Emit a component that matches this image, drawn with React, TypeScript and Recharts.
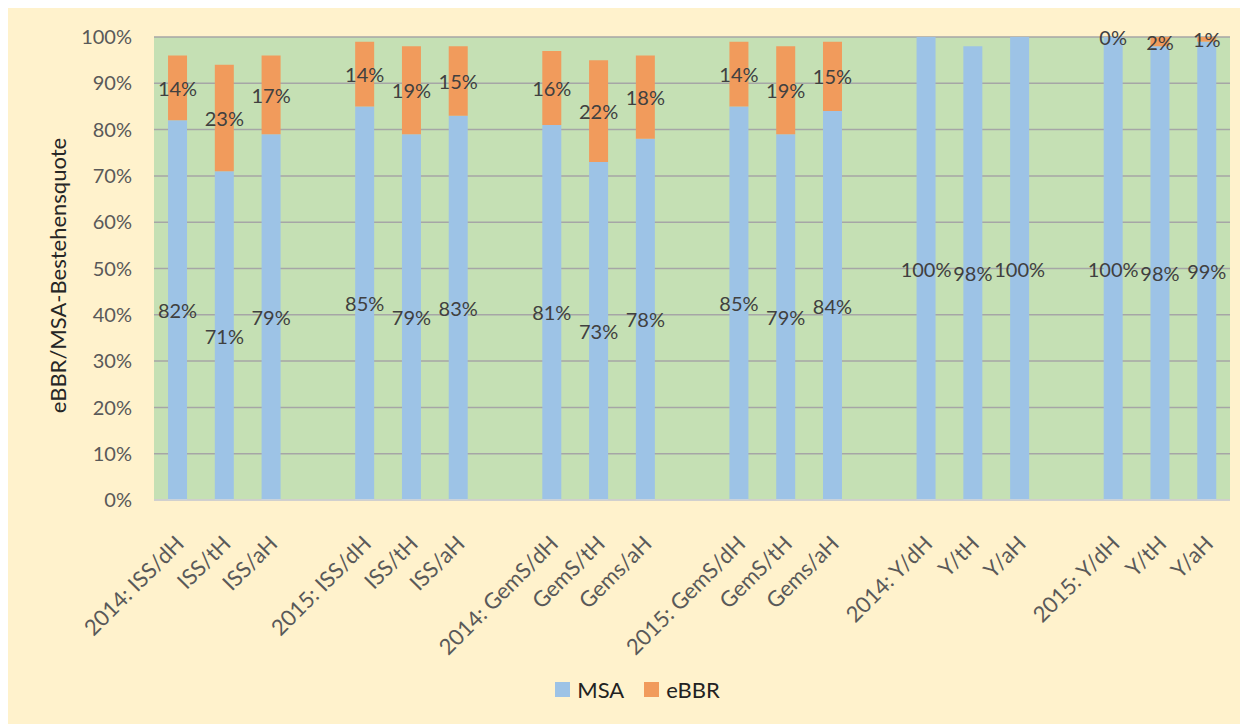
import React from 'react';
import { BarChart, Bar, XAxis, YAxis, CartesianGrid, Legend, LabelList } from 'recharts';

// Empty strings are spacer slots between the groups
const categories = [
  '2014: ISS/dH', 'ISS/tH', 'ISS/aH', '',
  '2015: ISS/dH', 'ISS/tH', 'ISS/aH', '',
  '2014: GemS/dH', 'GemS/tH', 'Gems/aH', '',
  '2015: GemS/dH', 'GemS/tH', 'Gems/aH', '',
  '2014: Y/dH', 'Y/tH', 'Y/aH', '',
  '2015: Y/dH', 'Y/tH', 'Y/aH',
];

const msaValues = [
  82, 71, 79, null,
  85, 79, 83, null,
  81, 73, 78, null,
  85, 79, 84, null,
  100, 98, 100, null,
  100, 98, 99,
];

const ebbrValues = [
  14, 23, 17, null,
  14, 19, 15, null,
  16, 22, 18, null,
  14, 19, 15, null,
  null, null, null, null,
  0, 2, 1,
];

const yTicks = [0, 10, 20, 30, 40, 50, 60, 70, 80, 90, 100];

const FONT = 'Lato, "Noto Sans", sans-serif';
const MSA_COLOR = '#9DC3E6';
const EBBR_COLOR = '#F19B5C';

const rows = categories.map((name, i) => ({
  slot: i,
  name,
  msa: msaValues[i],
  ebbr: ebbrValues[i],
}));

const CategoryTick = ({ x, y, payload }: { x: number; y: number; payload: { value: number } }) => {
  const label = categories[payload.value];
  if (!label) return null;
  const px = x + 8;
  const py = y + 43;
  return (
    <text
      x={px}
      y={py}
      transform={`rotate(-45, ${px}, ${py})`}
      textAnchor="end"
      fill="#595959"
      fontSize={22}
      fontFamily={FONT}
    >
      {label}
    </text>
  );
};

const valueText = (cx: number, cy: number, value: number) => (
  <text
    x={cx}
    y={cy}
    textAnchor="middle"
    dominantBaseline="central"
    fill="#404040"
    fontSize={20}
    fontFamily={FONT}
  >
    {`${value}%`}
  </text>
);

// Data labels centred in each segment; null entries get no label
const renderValue = (props: any) => {
  const { x, y, width, height, value } = props;
  if (value === null || value === undefined || value === 0) return null;
  return valueText(x + width / 2, y + height / 2, value);
};

// A 0 % eBBR segment has no height, so its label sits on top of the MSA bar
const renderZeroEbbr = (props: any) => {
  const { x, y, width, value } = props;
  if (value !== 0) return null;
  return valueText(x + width / 2, y, value);
};

const LegendContent = () => (
  <div
    style={{
      display: 'flex',
      justifyContent: 'center',
      alignItems: 'center',
      gap: 20,
      paddingTop: 26,
      fontFamily: FONT,
      fontSize: 22,
      color: '#222',
      paddingLeft: 40,
    }}
  >
    {[
      { name: 'MSA', color: MSA_COLOR },
      { name: 'eBBR', color: EBBR_COLOR },
    ].map((item) => (
      <span key={item.name} style={{ display: 'flex', alignItems: 'center' }}>
        <span style={{ width: 15, height: 15, background: item.color, marginRight: 7 }} />
        {item.name}
      </span>
    ))}
  </div>
);

export default function App() {
  return (
    <div style={{ marginLeft: -3, width: 1243, height: 716, background: '#FFF2CC' }}>
      <BarChart
        width={1243}
        height={716}
        data={rows}
        margin={{ top: 29, right: 18, bottom: 0, left: 0 }}
        barCategoryGap="30%"
      >
        <CartesianGrid
          vertical={false}
          stroke="#A6A6A6"
          strokeWidth={1.5}
          fill="#C5E0B4"
          fillOpacity={1}
        />
        <XAxis
          dataKey="slot"
          type="category"
          interval={0}
          tickLine={false}
          tickSize={0}
          axisLine={{ stroke: '#D9D9D9', strokeWidth: 1.5 }}
          tick={CategoryTick as any}
          height={150}
        />
        <YAxis
          domain={[0, 100]}
          ticks={yTicks}
          tickFormatter={(v) => `${v}%`}
          tick={{ fill: '#595959', fontSize: 20, fontFamily: FONT }}
          tickLine={false}
          tickSize={0}
          tickMargin={22}
          axisLine={false}
          width={149}
          label={{
            content: (props: any) => {
              const vb = props.viewBox;
              const cx = vb.x + 52;
              const cy = vb.y + vb.height / 2 + 7;
              return (
                <text
                  x={cx}
                  y={cy}
                  transform={`rotate(-90, ${cx}, ${cy})`}
                  textAnchor="middle"
                  dominantBaseline="central"
                  fill="#262626"
                  fontSize={22}
                  fontFamily={FONT}
                >
                  eBBR/MSA-Bestehensquote
                </text>
              );
            },
          }}
        />
        <Legend verticalAlign="bottom" height={74} content={<LegendContent />} />
        <Bar dataKey="msa" name="MSA" stackId="a" fill={MSA_COLOR} isAnimationActive={false}>
          <LabelList dataKey="msa" content={renderValue} />
          <LabelList dataKey="ebbr" content={renderZeroEbbr} />
        </Bar>
        <Bar dataKey="ebbr" name="eBBR" stackId="a" fill={EBBR_COLOR} isAnimationActive={false}>
          <LabelList dataKey="ebbr" content={renderValue} />
        </Bar>
      </BarChart>
    </div>
  );
}
